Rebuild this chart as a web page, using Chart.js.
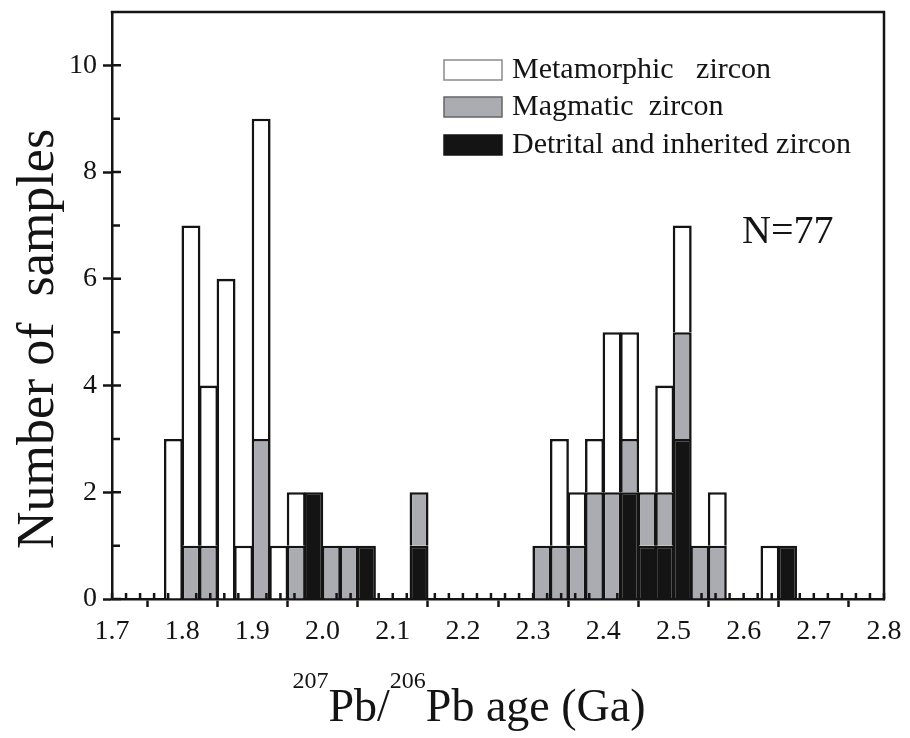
<!DOCTYPE html>
<html>
<head>
<meta charset="utf-8">
<script src="https://cdn.jsdelivr.net/npm/chart.js@4.4.1/dist/chart.umd.min.js"></script>
<style>
    html, body { margin: 0; padding: 0; background: #fff; }
</style>
</head>
<body>
<canvas id="zircon_chart" width="910" height="738"></canvas>
<script>
// histogram bins, 0.025 Ga wide, only the bins that hold samples
const binWidth = 0.025;
const binStarts   = [1.775, 1.800, 1.825, 1.850, 1.875, 1.900, 1.925, 1.950, 1.975, 2.000, 2.025, 2.050, 2.125,
                     2.300, 2.325, 2.350, 2.375, 2.400, 2.425, 2.450, 2.475, 2.500, 2.525, 2.550, 2.625, 2.650];
const detrital    = [0, 0, 0, 0, 0, 0, 0, 0, 2, 0, 0, 1, 1,   0, 0, 0, 0, 0, 2, 1, 1, 3, 0, 0, 0, 1];
const magmatic    = [0, 1, 1, 0, 0, 3, 0, 1, 0, 1, 1, 0, 1,   1, 1, 1, 2, 2, 1, 1, 1, 2, 1, 1, 0, 0];
const metamorphic = [3, 6, 3, 6, 1, 6, 1, 1, 0, 0, 0, 0, 0,   0, 2, 1, 1, 3, 2, 0, 2, 2, 0, 1, 1, 0];

const xTicks = [1.7, 1.8, 1.9, 2.0, 2.1, 2.2, 2.3, 2.4, 2.5, 2.6, 2.7, 2.8];
const yTicks = [0, 2, 4, 6, 8, 10];
const yMinorTicks = [1, 3, 5, 7, 9];

const seriesLabels = ["Metamorphic   zircon", "Magmatic  zircon", "Detrital and inherited zircon"];
const yTitle = "Number of  samples";
const xTitleParts = [["207", true], ["Pb/", false], ["206", true], ["Pb age (Ga)", false]];
const sampleNote = "N=77";

const FONT = "'Liberation Serif', 'Times New Roman', serif";
const INK = "#141414";
const GREY = "#abacb1";

function toPoints(values){
    return binStarts
        .map((start, i) => ({x: start + binWidth / 2, y: values[i]}))
        .filter(p => p.y > 0);
}

const barStyle = {
    borderColor: INK,
    borderWidth: 2.6,
    borderSkipped: "start",
    categoryPercentage: 1,
    barPercentage: 1.08
};

const frameAndLabels = {
    id: "frameAndLabels",
    afterDatasetsDraw(chart){
        const {ctx, chartArea: area, scales: {x, y}} = chart;
        ctx.save();
        ctx.strokeStyle = INK;
        ctx.lineWidth = 2.5;
        ctx.lineCap = "square";

        ctx.beginPath();
        ctx.moveTo(area.left, area.top);
        ctx.lineTo(area.right, area.top);
        ctx.lineTo(area.right, area.bottom);
        ctx.stroke();

        // inward halves of the ticks
        ctx.lineCap = "butt";
        ctx.beginPath();
        for (let i = 0; i < xTicks.length - 1; i++){
            for (let k = 1; k < 5; k++){
                const px = x.getPixelForValue(xTicks[i] + k * 0.02);
                ctx.moveTo(px, area.bottom);
                ctx.lineTo(px, area.bottom - 6);
            }
        }
        xTicks.forEach(v => {
            const px = x.getPixelForValue(v);
            ctx.moveTo(px, area.bottom);
            ctx.lineTo(px, area.bottom - 6);
        });
        yTicks.forEach(v => {
            const py = y.getPixelForValue(v);
            ctx.moveTo(area.left, py);
            ctx.lineTo(area.left + 9, py);
        });
        yMinorTicks.forEach(v => {
            const py = y.getPixelForValue(v);
            ctx.moveTo(area.left, py);
            ctx.lineTo(area.left + 8, py);
        });
        ctx.stroke();
        ctx.restore();
    },
    afterDraw(chart){
        const ctx = chart.ctx;
        ctx.save();
        ctx.fillStyle = INK;

        // y title
        ctx.font = "52px " + FONT;
        ctx.textAlign = "center";
        ctx.textBaseline = "alphabetic";
        ctx.translate(53, 339);
        ctx.rotate(-Math.PI / 2);
        ctx.fillText(yTitle, 0, 0);
        ctx.setTransform(1, 0, 0, 1, 0, 0);

        // x title with superscripts
        ctx.textAlign = "left";
        const bigFont = "46px " + FONT, smallFont = "24px " + FONT;
        let total = 0;
        xTitleParts.forEach(([t, sup]) => {
            ctx.font = sup ? smallFont : bigFont;
            total += ctx.measureText(t).width;
        });
        let cx = 469 - total / 2;
        xTitleParts.forEach(([t, sup]) => {
            ctx.font = sup ? smallFont : bigFont;
            ctx.fillText(t, cx, sup ? 688 : 721);
            cx += ctx.measureText(t).width;
        });

        // legend
        const rows = [
            {fill: "#ffffff", stroke: "#8a8a8a", y: 70},
            {fill: GREY, stroke: "#666", y: 107},
            {fill: INK, stroke: INK, y: 145}
        ];
        ctx.font = "30px " + FONT;
        ctx.textBaseline = "middle";
        rows.forEach((r, i) => {
            ctx.fillStyle = r.fill;
            ctx.fillRect(444, r.y - 10, 58, 20);
            ctx.strokeStyle = r.stroke;
            ctx.lineWidth = 1.5;
            ctx.strokeRect(444, r.y - 10, 58, 20);
            ctx.fillStyle = INK;
            ctx.fillText(seriesLabels[i], 512, r.y);
        });

        // sample count
        ctx.font = "40px " + FONT;
        ctx.textBaseline = "alphabetic";
        ctx.fillText(sampleNote, 742, 243);
        ctx.restore();
    }
};

const zircon_ctx = document.getElementById("zircon_chart");
const zircon_chart = new Chart(zircon_ctx, {
    type: "bar",
    data: {
        datasets: [
            Object.assign({label: seriesLabels[2], data: toPoints(detrital), backgroundColor: INK}, barStyle),
            Object.assign({label: seriesLabels[1], data: toPoints(magmatic), backgroundColor: GREY}, barStyle),
            Object.assign({label: seriesLabels[0], data: toPoints(metamorphic), backgroundColor: "#ffffff"}, barStyle)
        ]
    },
    options: {
        responsive: false,
        animation: false,
        layout: {padding: {top: 12, right: 26, bottom: 0, left: 0}},
        plugins: {legend: {display: false}, tooltip: {enabled: false}},
        scales: {
            x: {
                type: "linear",
                stacked: true,
                min: 1.7,
                max: 2.8,
                offset: false,
                afterBuildTicks: scale => { scale.ticks = xTicks.map(v => ({value: v})); },
                afterFit: scale => {
                    scale.height = 139;
                    scale.paddingLeft = 0;
                    scale.paddingRight = 0;
                },
                ticks: {
                    color: INK,
                    padding: 8,
                    maxRotation: 0,
                    font: {family: FONT, size: 28},
                    callback: v => Number(v).toFixed(1)
                },
                grid: {drawOnChartArea: false, tickLength: 8, tickWidth: 2.5, tickColor: INK},
                border: {color: INK, width: 2.5}
            },
            y: {
                stacked: true,
                min: 0,
                max: 11,
                afterBuildTicks: scale => { scale.ticks = yTicks.map(v => ({value: v})); },
                afterFit: scale => {
                    scale.width = 112;
                    scale.paddingTop = 0;
                    scale.paddingBottom = 0;
                },
                ticks: {
                    color: INK,
                    padding: 6,
                    font: {family: FONT, size: 28}
                },
                grid: {drawOnChartArea: false, tickLength: 9, tickWidth: 2.5, tickColor: INK},
                border: {color: INK, width: 2.5}
            }
        }
    },
    plugins: [frameAndLabels]
});
</script>
</body>
</html>
